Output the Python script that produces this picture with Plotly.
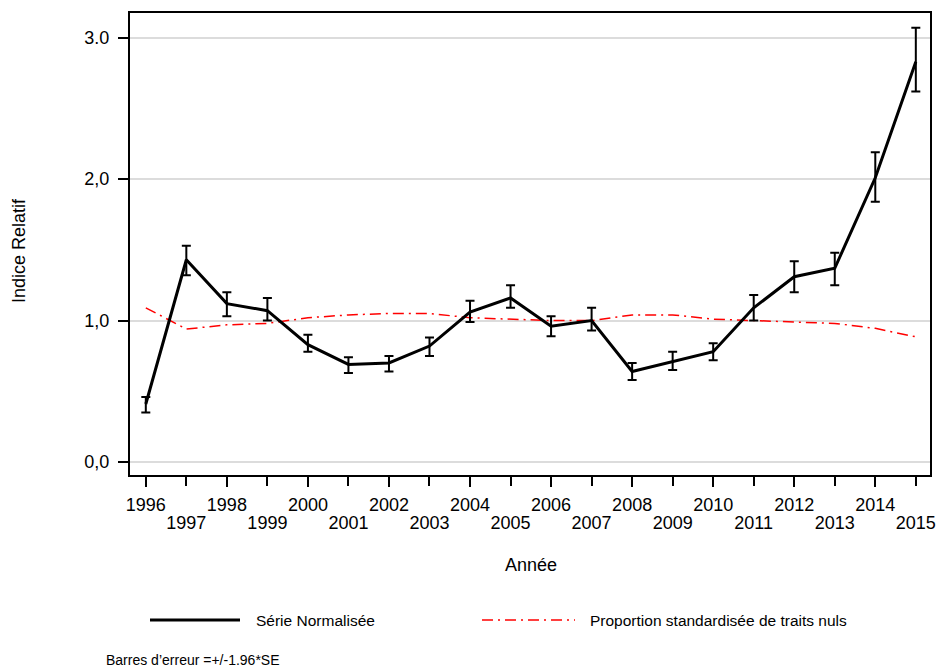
import plotly.graph_objects as go

years = list(range(1996, 2016))
serie = [0.41, 1.43, 1.12, 1.07, 0.83, 0.69, 0.70, 0.82, 1.06, 1.16, 0.96, 1.00, 0.64, 0.71, 0.78, 1.09, 1.31, 1.37, 2.01, 2.83]
upper = [0.46, 1.53, 1.20, 1.16, 0.90, 0.74, 0.75, 0.88, 1.14, 1.25, 1.03, 1.09, 0.70, 0.78, 0.84, 1.18, 1.42, 1.48, 2.19, 3.07]
lower = [0.35, 1.32, 1.03, 1.00, 0.78, 0.63, 0.64, 0.75, 0.99, 1.09, 0.89, 0.93, 0.58, 0.65, 0.72, 1.00, 1.20, 1.25, 1.84, 2.62]
prop_nuls = [1.09, 0.94, 0.97, 0.98, 1.02, 1.04, 1.05, 1.05, 1.02, 1.01, 1.00, 1.00, 1.04, 1.04, 1.01, 1.00, 0.99, 0.98, 0.945, 0.885]
ytick_vals = [0, 1, 2, 3]
ytick_text = ["0,0", "1,0", "2,0", "3.0"]
even_years = years[0::2]
odd_years = years[1::2]

err_plus = [u - s for u, s in zip(upper, serie)]
err_minus = [s - l for s, l in zip(serie, lower)]

FONT = "Liberation Sans, Arial, sans-serif"
RED_DASH = "11px,5px,2px,5px"
XR = [1995.61, 2015.35]

fig = go.Figure()
fig.add_trace(go.Scatter(
    x=years, y=prop_nuls, mode="lines",
    line=dict(color="#ff0000", width=1.5, dash=RED_DASH),
    showlegend=False, name="Proportion standardisée de traits nuls"))
fig.add_trace(go.Scatter(
    x=years, y=serie, mode="lines",
    line=dict(color="black", width=3),
    error_y=dict(type="data", symmetric=False, array=err_plus, arrayminus=err_minus,
                 color="black", thickness=2, width=4.5),
    showlegend=False, name="Série Normalisée"))

common_x = dict(range=XR, tickangle=0, automargin=False, showgrid=False, zeroline=False,
                ticks="outside", ticklen=10, tickwidth=1.5, tickcolor="black",
                tickfont=dict(size=18, family=FONT, color="black"))

fig.update_layout(
    width=939, height=668,
    margin=dict(l=130, r=9, t=13, b=193),
    paper_bgcolor="white", plot_bgcolor="white",
    font=dict(family=FONT, color="black"),
    xaxis=dict(tickvals=even_years, ticktext=[str(y) for y in even_years],
               showline=True, linecolor="black", linewidth=2, mirror=True,
               ticklabelstandoff=2, **common_x),
    xaxis2=dict(tickvals=odd_years, ticktext=[str(y) for y in odd_years],
                overlaying="x", anchor="y", side="bottom", matches="x",
                showline=False, ticklabelstandoff=21, **common_x),
    yaxis=dict(range=[-0.092, 3.175], tickvals=ytick_vals, ticktext=ytick_text,
               automargin=False,
               showgrid=True, gridcolor="#dcdcdc", gridwidth=2, zeroline=False,
               showline=True, linecolor="black", linewidth=2, mirror=True,
               ticks="outside", ticklen=10, tickwidth=1.5, tickcolor="black",
               ticklabelstandoff=5,
               tickfont=dict(size=18, family=FONT)),
)
# invisible trace to activate the second x axis (odd-year ticks)
fig.add_trace(go.Scatter(x=[years[1]], y=[serie[1]], xaxis="x2", mode="markers",
                         marker=dict(opacity=0), showlegend=False, hoverinfo="skip"))

def px_x(px):
    return (px - 130) / 800.0

def px_y(py):
    return (475 - py) / 462.0

# Legend samples
fig.add_shape(type="line", xref="paper", yref="paper",
              x0=px_x(150), x1=px_x(240), y0=px_y(620), y1=px_y(620),
              line=dict(color="black", width=3))
fig.add_shape(type="line", xref="paper", yref="paper",
              x0=px_x(482), x1=px_x(575), y0=px_y(620), y1=px_y(620),
              line=dict(color="#ff0000", width=1.5, dash=RED_DASH))

annots = [
    dict(text="Série Normalisée", x=px_x(254), y=px_y(620), xanchor="left", yanchor="middle", size=15.5),
    dict(text="Proportion standardisée de traits nuls", x=px_x(588), y=px_y(620), xanchor="left", yanchor="middle", size=15.5),
    dict(text="Barres d\u2019erreur =+/-1.96*SE", x=px_x(104), y=px_y(660), xanchor="left", yanchor="middle", size=14),
    dict(text="Année", x=px_x(531), y=px_y(565), xanchor="center", yanchor="middle", size=18),
]
for a in annots:
    fig.add_annotation(text=a["text"], x=a["x"], y=a["y"], xref="paper", yref="paper",
                       xanchor=a["xanchor"], yanchor=a["yanchor"], showarrow=False,
                       font=dict(size=a["size"], family=FONT, color="black"))
fig.add_annotation(text="Indice Relatif", x=px_x(19), y=px_y(250), xref="paper", yref="paper",
                   xanchor="center", yanchor="middle", showarrow=False, textangle=-90,
                   font=dict(size=18, family=FONT, color="black"))

fig.write_html("out.html", config={"displayModeBar": False},
               post_script="document.body.style.margin='0';document.body.style.padding='0';")
